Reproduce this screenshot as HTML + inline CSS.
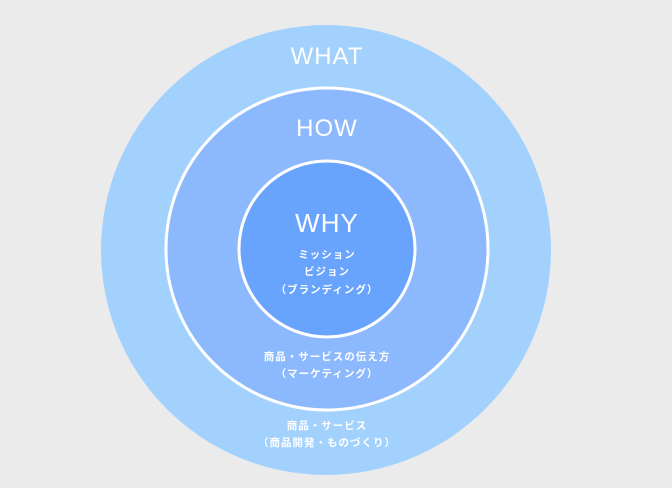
<!DOCTYPE html>
<html><head><meta charset="utf-8"><style>
html,body{margin:0;padding:0;background:#ebebeb;}
svg{display:block}
text{font-family:"Liberation Sans","Noto Sans CJK JP",sans-serif;fill:#fff;text-anchor:middle}
.big{font-size:24px;font-weight:300;letter-spacing:1px}
.jp{font-size:10.5px;font-weight:bold;letter-spacing:1px}
</style></head><body>
<svg width="672" height="488" viewBox="0 0 672 488">
<rect width="672" height="488" fill="#ebebeb"/>
<circle cx="326" cy="250" r="225" fill="#a3d1fd"/>
<circle cx="327" cy="249" r="161" fill="#8cb9fd" stroke="#fff" stroke-width="3"/>
<circle cx="327" cy="249" r="88" fill="#68a3fd" stroke="#fff" stroke-width="3"/>
<text class="big" x="327" y="64">WHAT</text>
<text class="big" x="327" y="136">HOW</text>
<text class="big" x="327" y="232" style="font-size:26px">WHY</text>
<text class="jp" x="327" y="258">ミッション</text>
<text class="jp" x="327" y="275">ビジョン</text>
<text class="jp" x="327" y="293">（ブランディング）</text>
<text class="jp" x="327" y="360">商品・サービスの伝え方</text>
<text class="jp" x="327" y="377">（マーケティング）</text>
<text class="jp" x="327" y="429">商品・サービス</text>
<text class="jp" x="327" y="446">（商品開発・ものづくり）</text>
</svg>
</body></html>
